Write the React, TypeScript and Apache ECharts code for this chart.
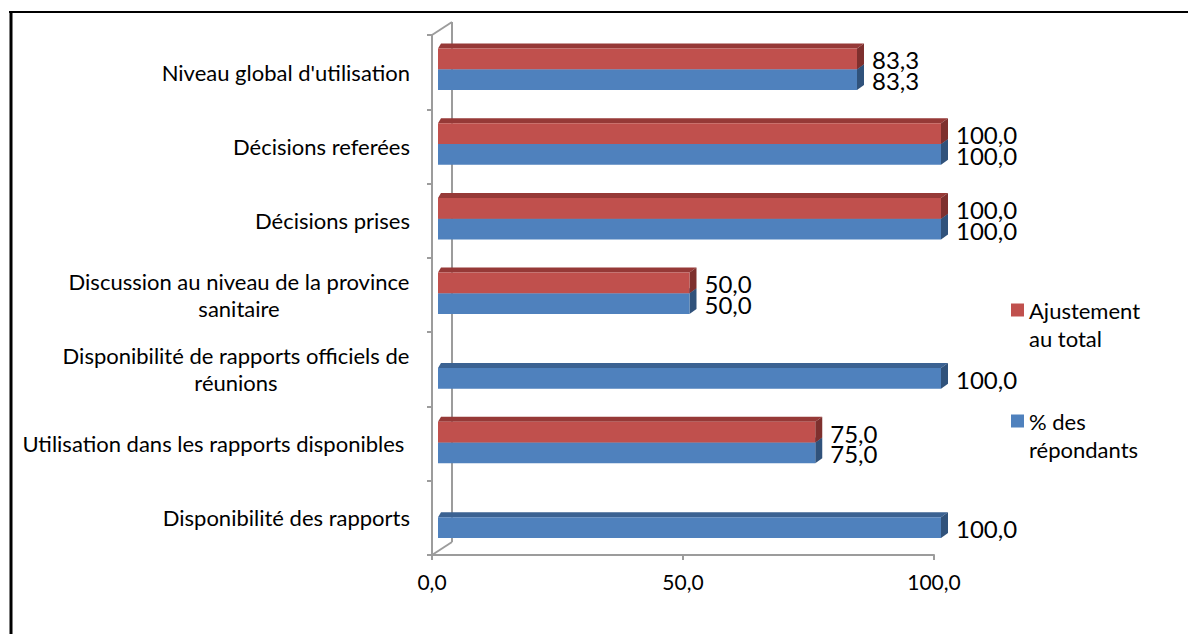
import React, { useEffect, useRef } from "react";
import * as echarts from "echarts";

const categories = [
  "Niveau global d'utilisation",
  "Décisions referées",
  "Décisions prises",
  "Discussion au niveau de la province\nsanitaire",
  "Disponibilité de rapports officiels de\nréunions",
  "Utilisation dans les rapports disponibles ",
  "Disponibilité des rapports",
];
const ajustement: (number | null)[] = [83.3, 100, 100, 50, null, 75, null];
const repondants: (number | null)[] = [83.3, 100, 100, 50, 100, 75, 100];
const seriesNames = ["Ajustement au total", "% des répondants"];
const legendLabels = ["Ajustement\nau total", "% des\nrépondants"];
const xTicks = [0, 50, 100];

const FONT = "Lato, 'Noto Sans', sans-serif";
const CAT_SIZE = 22;
const VAL_SIZE = 24;
const AXIS_SIZE = 21;
const LEG_SIZE = 22;

const fmt = (v: number) => v.toFixed(1).replace(".", ",");

function measure(t: string, size: number) {
  const ctx = document.createElement("canvas").getContext("2d")!;
  ctx.font = `${size}px ${FONT}`;
  return ctx.measureText(t).width;
}

const COLORS = {
  red: { front: "#C0504D", top: "#963937", side: "#7E302E" },
  blue: { front: "#4F81BD", top: "#3B6292", side: "#30527B" },
};

function makeRender(which: "red" | "blue") {
  const c = COLORS[which];
  return (params: any, api: any) => {
    const v = api.value(0);
    const ci = api.value(1);
    if (v == null || isNaN(v)) return null;
    const s = api.coord([0, ci]);
    const e = api.coord([v, ci]);
    const band = api.size([0, 1])[1];
    const h = band * 0.278;
    const y0 = which === "red" ? e[1] - h : e[1];
    const y1 = y0 + h;
    const x0 = s[0];
    const x1 = e[0];
    const dx = 7;
    const dxl = 3;
    const dy = 5;
    return {
      type: "group",
      children: [
        {
          type: "polygon",
          shape: { points: [[x0, y0], [x0 + dxl, y0 - dy], [x1 + dx, y0 - dy], [x1, y0]] },
          style: { fill: c.top },
        },
        {
          type: "polygon",
          shape: { points: [[x1, y0], [x1 + dx, y0 - dy], [x1 + dx, y1 - dy], [x1, y1]] },
          style: { fill: c.side },
        },
        {
          type: "rect",
          shape: { x: x0, y: y0, width: x1 - x0, height: h },
          style: { fill: c.front },
        },
        {
          type: "text",
          style: {
            text: fmt(v),
            x: x1 + 15,
            y: (y0 + y1) / 2 + 1,
            fill: "#000",
            fontSize: VAL_SIZE,
            fontFamily: FONT,
            lineHeight: 20,
            align: "left",
            verticalAlign: "middle",
          },
        },
      ],
    };
  };
}

export default function App() {
  const ref = useRef<HTMLDivElement>(null);
  useEffect(() => {
    if (!ref.current) return;
    const chart = echarts.init(ref.current, undefined, { renderer: "svg" });

    const rich: Record<string, any> = {};
    const labelMap: Record<string, string> = {};
    categories.forEach((c, i) => {
      const lines = c.split("\n");
      if (lines.length > 1) {
        const w = Math.max(...lines.map((l) => measure(l, CAT_SIZE)));
        const key = "c" + i;
        rich[key] = {
          width: Math.ceil(w) + 1,
          align: "center",
          fontSize: CAT_SIZE,
          fontFamily: FONT,
          lineHeight: 27,
          color: "#000",
        };
        labelMap[c] = lines.map((l) => `{${key}|${l}}`).join("\n");
      } else {
        labelMap[c] = c;
      }
    });

    const redData = ajustement
      .map((v, i) => (v == null ? null : [v, i]))
      .filter((d) => d != null);
    const blueData = repondants
      .map((v, i) => (v == null ? null : [v, i]))
      .filter((d) => d != null);

    const gray = "#9C9C9C";

    chart.setOption({
      animation: false,
      backgroundColor: "#fff",
      grid: [
        { left: 432, top: 35, width: 502, height: 520 },
        { left: 438, top: 32, width: 503, height: 522.6 },
      ],
      xAxis: [
        {
          gridIndex: 0,
          type: "value",
          min: xTicks[0],
          max: xTicks[xTicks.length - 1],
          interval: xTicks[1] - xTicks[0],
          axisLine: { show: true, lineStyle: { color: gray, width: 2 } },
          axisTick: { show: true, length: 5, lineStyle: { color: gray, width: 2 } },
          splitLine: { show: false },
          axisLabel: {
            formatter: (v: number) => fmt(v),
            fontSize: AXIS_SIZE,
            fontFamily: FONT,
            color: "#000",
            margin: 16,
          },
          z: 1,
        },
        {
          gridIndex: 1,
          type: "value",
          min: 0,
          max: 100,
          show: false,
        },
      ],
      yAxis: [
        {
          gridIndex: 0,
          type: "category",
          inverse: true,
          data: categories,
          axisLine: { show: true, lineStyle: { color: gray, width: 2 } },
          axisTick: { show: true, length: 5, lineStyle: { color: gray, width: 2 } },
          axisLabel: {
            formatter: (v: string) => labelMap[v] ?? v,
            fontSize: CAT_SIZE,
            fontFamily: FONT,
            color: "#000",
            lineHeight: 27,
            margin: 22,
            align: "right",
            rich,
          },
          z: 1,
        },
        {
          gridIndex: 1,
          type: "category",
          inverse: true,
          data: categories,
          show: false,
        },
      ],
      legend: {
        orient: "vertical",
        left: 1011,
        top: 268,
        padding: 0,
        itemWidth: 13,
        itemHeight: 13,
        itemGap: 27,
        icon: "rect",
        data: seriesNames,
        formatter: (name: string) => "\n" + legendLabels[seriesNames.indexOf(name)],
        textStyle: {
          fontSize: LEG_SIZE,
          fontFamily: FONT,
          color: "#000",
          lineHeight: 28,
        },
      },
      graphic: [
        { type: "line", shape: { x1: 9, y1: 12, x2: 1188, y2: 12 }, style: { stroke: "#000", lineWidth: 2 } },
        { type: "line", shape: { x1: 11, y1: 11, x2: 11, y2: 634 }, style: { stroke: "#000", lineWidth: 3 } },
        { type: "line", shape: { x1: 452, y1: 22, x2: 452, y2: 542 }, style: { stroke: gray, lineWidth: 2 }, z: -1 },
        { type: "line", shape: { x1: 432, y1: 35, x2: 452, y2: 22 }, style: { stroke: gray, lineWidth: 2 }, z: -1 },
        { type: "line", shape: { x1: 432, y1: 555, x2: 452, y2: 542 }, style: { stroke: gray, lineWidth: 2 }, z: -1 },
      ],
      series: [
        {
          name: seriesNames[1],
          type: "custom",
          xAxisIndex: 1,
          yAxisIndex: 1,
          itemStyle: { color: COLORS.blue.front },
          renderItem: makeRender("blue"),
          encode: { x: 0, y: 1 },
          data: blueData,
          z: 3,
        },
        {
          name: seriesNames[0],
          type: "custom",
          xAxisIndex: 1,
          yAxisIndex: 1,
          itemStyle: { color: COLORS.red.front },
          renderItem: makeRender("red"),
          encode: { x: 0, y: 1 },
          data: redData,
          z: 4,
        },
      ],
    });
    return () => chart.dispose();
  }, []);
  return (
    <div
      ref={ref}
      style={{ position: "fixed", left: 0, top: 0, width: 1188, height: 634 }}
    />
  );
}
